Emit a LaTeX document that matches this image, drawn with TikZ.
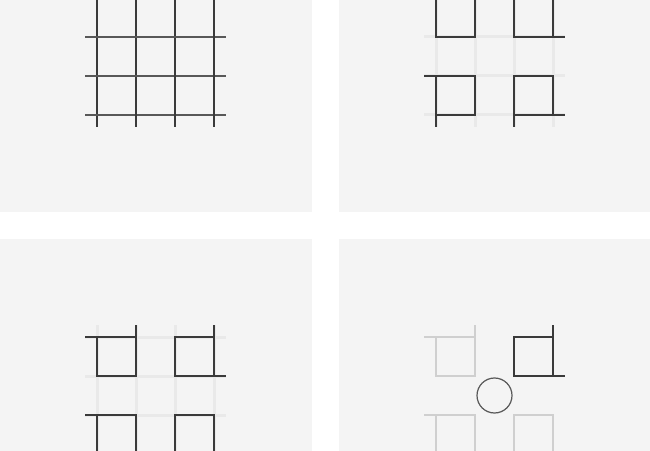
\documentclass[tikz,border=0pt]{standalone}
\definecolor{panelgray}{HTML}{F4F4F4}
\definecolor{inkgray}{HTML}{3A3A3A}
\definecolor{ghostgray}{HTML}{E9E9E9}
\definecolor{palegray}{HTML}{CFCFCF}
\begin{document}
\begin{tikzpicture}[x=39pt,y=39pt,
  ink/.style={draw=inkgray,line width=2.4pt},
  ghost/.style={draw=ghostgray,line width=3pt},
  pale/.style={draw=palegray,line width=2.4pt},
  panel/.style={fill=panelgray}]
\fill[white] (0,0) rectangle (650pt,450pt);
\clip (0,0) rectangle (650pt,450pt);

% full grid
\begin{scope}[shift={(97pt,335pt)}]
\fill[panel] (-2.5,-2.5) rectangle (5.5,5.5);
\foreach \k in {0,...,3} {
  \draw[ink] (\k,-0.3) -- (\k,3.3);
  \draw[ink,draw=inkgray!85] (-0.3,\k) -- (3.3,\k);
}
\end{scope}

% pinwheel, twice
\foreach \sx/\sy in {436/335,97/-4} {
\begin{scope}[shift={(\sx pt,\sy pt)}]
\fill[panel] (-2.5,-2.5) rectangle (5.5,5.5);
\foreach \k in {0,...,3} {
  \draw[ghost] (\k,-0.3) -- (\k,3.3);
  \draw[ghost] (-0.3,\k) -- (3.3,\k);
}
\foreach \a in {0,-90,-180,-270} {
  \begin{scope}[rotate around={\a:(1.5,1.5)}]
  \draw[ink] (-0.3,3) -- (1,3);
  \draw[ink] (0,3) -- (0,2) -- (1,2) -- (1,3.3);
  \end{scope}
}
\end{scope}
}

% one square left
\begin{scope}[shift={(436pt,-4pt)}]
\fill[panel] (-2.5,-2.5) rectangle (5.5,5.5);
\foreach \a in {0,-180,-270} {
  \begin{scope}[rotate around={\a:(1.5,1.5)}]
  \draw[pale] (-0.3,3) -- (1,3);
  \draw[pale] (0,3) -- (0,2) -- (1,2) -- (1,3.3);
  \end{scope}
}
\begin{scope}[rotate around={-90:(1.5,1.5)}]
\draw[ink] (-0.3,3) -- (1,3);
\draw[ink] (0,3) -- (0,2) -- (1,2) -- (1,3.3);
\end{scope}
\draw[draw=inkgray!85,line width=1.2pt] (1.5,1.5) circle (17.5pt);
\end{scope}
\end{tikzpicture}
\end{document}
